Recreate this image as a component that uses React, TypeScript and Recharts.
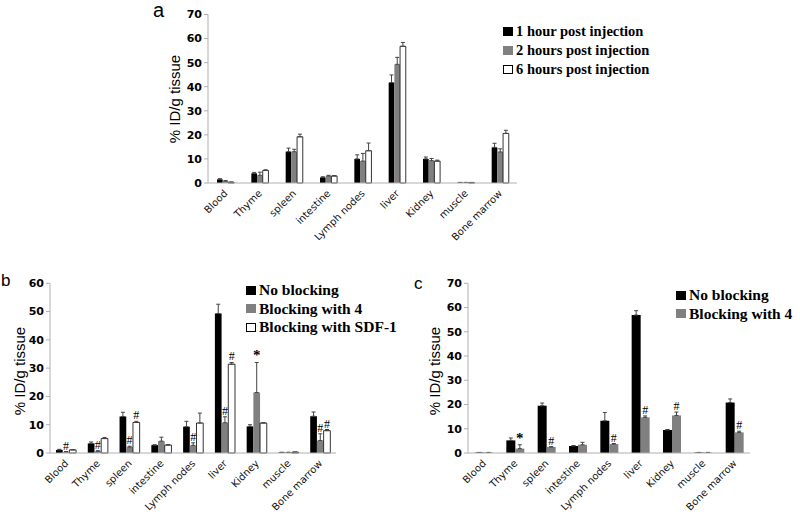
import React from "react";
import { BarChart, Bar, XAxis, YAxis, ErrorBar, LabelList } from "recharts";

const organs = [
  "Blood", "Thyme", "spleen", "intestine", "Lymph nodes",
  "liver", "Kidney", "muscle", "Bone marrow",
];

// panel a
const a1h = [1.5, 4.0, 13.0, 2.3, 10.0, 41.7, 10.0, 0.2, 14.8];
const a1hErr = [0.3, 0.4, 1.5, 0.3, 1.7, 3.2, 0.8, 0.05, 1.7];
const a2h = [0.8, 3.2, 13.0, 2.9, 9.1, 49.3, 9.3, 0.2, 12.9];
const a2hErr = [0.2, 1.3, 1.0, 0.3, 3.2, 2.9, 0.9, 0.05, 1.3];
const a6h = [0.3, 5.2, 19.2, 2.9, 13.4, 56.8, 9.1, 0.2, 20.6];
const a6hErr = [0.1, 0.3, 1.1, 0.2, 3.2, 1.6, 0.4, 0.05, 1.3];

// panel b
const bNo = [1.1, 3.4, 12.9, 2.8, 9.3, 49.3, 9.4, 0.2, 13.0];
const bNoErr = [0.2, 0.5, 1.5, 0.1, 1.9, 3.3, 0.6, 0.05, 1.5];
const b4 = [0.4, 0.6, 2.1, 4.2, 2.7, 10.7, 21.4, 0.2, 4.4];
const b4Err = [0.1, 0.2, 0.3, 1.4, 0.9, 2.1, 10.6, 0.05, 2.4];
const b4Notes = ["#", "#", "#", "", "#", "#", "*", "", "#"];
const bSdf = [1.1, 5.1, 10.8, 2.8, 10.6, 31.4, 10.6, 0.3, 7.9];
const bSdfErr = [0.1, 0.4, 0.4, 0.2, 3.5, 0.6, 0.1, 0.05, 0.4];
const bSdfNotes = ["", "", "#", "", "", "#", "", "", "#"];

// panel c
const cNo = [0.2, 5.2, 19.5, 2.9, 13.3, 56.9, 9.5, 0.2, 20.8];
const cNoErr = [0.05, 1.0, 1.1, 0.2, 3.4, 1.8, 0.2, 0.05, 1.5];
const c4 = [0.2, 1.8, 2.5, 3.4, 3.7, 14.7, 15.5, 0.2, 8.5];
const c4Err = [0.05, 1.6, 0.1, 1.0, 0.2, 0.6, 1.4, 0.05, 0.5];
const c4Notes = ["", "*", "#", "", "#", "#", "#", "", "#"];

const ticks70 = [0, 10, 20, 30, 40, 50, 60, 70];
const ticks60 = [0, 10, 20, 30, 40, 50, 60];
const boundaries = [0, 1, 2, 3, 4, 5, 6, 7, 8, 9];

const AXIS = "#b0b0b0";

type Series = {
  key: string;
  name: string;
  values: number[];
  errs: number[];
  notes?: string[];
  fill: string;
};

function buildRows(series: Series[]) {
  return organs.map((organ, i) => {
    const row: Record<string, unknown> = { organ };
    series.forEach((s) => {
      row[s.key] = s.values[i];
      row[s.key + "Err"] = [0, s.errs[i]];
      row[s.key + "Note"] = s.notes ? s.notes[i] : "";
    });
    return row;
  });
}

interface PanelProps {
  series: Series[];
  width: number;
  height: number;
  margin: { top: number; right: number; left: number; bottom: number };
  yWidth: number;
  xHeight: number;
  yMax: number;
  ticks: number[];
  barSize: number;
}

function Panel({ series, width, height, margin, yWidth, xHeight, yMax, ticks, barSize }: PanelProps) {
  const data = buildRows(series);
  const plotH = height - margin.top - margin.bottom - xHeight;
  const pxPerUnit = plotH / yMax;

  // "#" / "*" marks sit just above the error bar cap
  const noteContent = (errs: number[]) => (p: any) => {
    const { x, y, width: w, value, index } = p;
    if (!value) return null;
    const top = y - errs[index] * pxPerUnit;
    return (
      <text
        x={x + w / 2}
        y={top - 2}
        textAnchor="middle"
        fontSize={value === "*" ? 15 : 12}
        fontFamily="Liberation Serif"
        fontWeight={value === "*" ? "bold" : "normal"}
        fill="#000"
      >
        {value}
      </text>
    );
  };

  return (
    <BarChart width={width} height={height} data={data} margin={margin} barGap={0} barSize={barSize}>
      {/* numeric axis only for the tick marks between categories */}
      <XAxis
        xAxisId="grid"
        type="number"
        domain={[0, 9]}
        ticks={boundaries}
        interval={0}
        height={0}
        tick={false}
        tickSize={4}
        axisLine={false}
        tickLine={{ stroke: AXIS }}
      />
      <XAxis
        dataKey="organ"
        height={xHeight}
        interval={0}
        tickSize={0}
        tickMargin={6}
        tickLine={false}
        angle={-45}
        textAnchor="end"
        axisLine={{ stroke: AXIS }}
        tick={{ fontSize: 10, fontFamily: "DejaVu Sans", fill: "#111", dx: -2 }}
      />
      <YAxis
        width={yWidth}
        domain={[0, yMax]}
        ticks={ticks}
        interval={0}
        tickSize={4}
        tickMargin={2}
        axisLine={{ stroke: AXIS }}
        tickLine={{ stroke: AXIS }}
        tick={{ fontSize: 11, fontFamily: "DejaVu Sans", fontWeight: "bold", fill: "#000" }}
      />
      {series.map((s) => (
        <Bar
          key={s.key}
          dataKey={s.key}
          fill={s.fill}
          stroke={s.fill === "#ffffff" ? "#000" : "none"}
          strokeWidth={0.8}
          isAnimationActive={false}
        >
          <ErrorBar dataKey={s.key + "Err"} width={2} strokeWidth={1} stroke="#444" direction="y" />
          {s.notes && <LabelList dataKey={s.key + "Note"} content={noteContent(s.errs)} />}
        </Bar>
      ))}
    </BarChart>
  );
}

function LegendBox({ series, left, top, fontSize, rowH, box }: { series: Series[]; left: number; top: number; fontSize: number; rowH: number; box: number }) {
  return (
    <div style={{ position: "absolute", left, top, fontFamily: "Liberation Serif", fontWeight: "bold", fontSize, lineHeight: `${rowH}px`, color: "#000" }}>
      {series.map((s) => (
        <div key={s.key} style={{ display: "flex", alignItems: "center", whiteSpace: "nowrap" }}>
          <span
            style={{
              display: "inline-block",
              width: box,
              height: box - 1,
              background: s.fill,
              border: s.fill === "#ffffff" ? "1px solid #000" : "none",
              boxSizing: "border-box",
              marginRight: 3,
            }}
          />
          {s.name}
        </div>
      ))}
    </div>
  );
}

function YLabel({ cx, cy }: { cx: number; cy: number }) {
  return (
    <div
      style={{
        position: "absolute",
        left: cx,
        top: cy,
        transform: "translate(-50%, -50%) rotate(-90deg)",
        fontFamily: "Liberation Sans",
        fontSize: 15,
        whiteSpace: "nowrap",
        color: "#000",
      }}
    >
      % ID/g tissue
    </div>
  );
}

function PanelLetter({ text, left, top, size }: { text: string; left: number; top: number; size: number }) {
  return (
    <div style={{ position: "absolute", left, top, fontFamily: "Liberation Sans", fontSize: size, lineHeight: 1, color: "#000" }}>
      {text}
    </div>
  );
}

const seriesA: Series[] = [
  { key: "h1", name: "1 hour post injection", values: a1h, errs: a1hErr, fill: "#000000" },
  { key: "h2", name: "2 hours post injection", values: a2h, errs: a2hErr, fill: "#808080" },
  { key: "h6", name: "6 hours post injection", values: a6h, errs: a6hErr, fill: "#ffffff" },
];

const seriesB: Series[] = [
  { key: "no", name: "No blocking", values: bNo, errs: bNoErr, fill: "#000000" },
  { key: "b4", name: "Blocking with 4", values: b4, errs: b4Err, notes: b4Notes, fill: "#808080" },
  { key: "sdf", name: "Blocking with SDF-1", values: bSdf, errs: bSdfErr, notes: bSdfNotes, fill: "#ffffff" },
];

const seriesC: Series[] = [
  { key: "no", name: "No blocking", values: cNo, errs: cNoErr, fill: "#000000" },
  { key: "b4", name: "Blocking with 4", values: c4, errs: c4Err, notes: c4Notes, fill: "#808080" },
];

export default function App() {
  return (
    <div style={{ position: "absolute", left: 0, top: 0, width: 800, height: 517, background: "#fff", overflow: "hidden" }}>
      <div style={{ position: "absolute", left: 150, top: 0 }}>
        <Panel
          series={seriesA}
          width={380}
          height={260}
          margin={{ top: 14.5, right: 13, left: 0, bottom: 0 }}
          yWidth={58}
          xHeight={77}
          yMax={70}
          ticks={ticks70}
          barSize={5.7}
        />
      </div>
      <div style={{ position: "absolute", left: 0, top: 270 }}>
        <Panel
          series={seriesB}
          width={350}
          height={247}
          margin={{ top: 13.3, right: 14, left: 0, bottom: 0 }}
          yWidth={50}
          xHeight={64}
          yMax={60}
          ticks={ticks60}
          barSize={6.7}
        />
      </div>
      <div style={{ position: "absolute", left: 410, top: 270 }}>
        <Panel
          series={seriesC}
          width={350}
          height={247}
          margin={{ top: 13.3, right: 10, left: 0, bottom: 0 }}
          yWidth={58}
          xHeight={64}
          yMax={70}
          ticks={ticks70}
          barSize={9}
        />
      </div>

      <YLabel cx={174} cy={99} />
      <YLabel cx={19} cy={371} />
      <YLabel cx={434} cy={371} />

      <PanelLetter text="a" left={153} top={0} size={20} />
      <PanelLetter text="b" left={1} top={272} size={17} />
      <PanelLetter text="c" left={414} top={275} size={17} />

      <LegendBox series={seriesA} left={503} top={22} fontSize={14.5} rowH={19} box={10} />
      <LegendBox series={seriesB} left={246} top={281} fontSize={15.5} rowH={18.5} box={10} />
      <LegendBox series={seriesC} left={676} top={286} fontSize={15.5} rowH={18.5} box={10} />
    </div>
  );
}
